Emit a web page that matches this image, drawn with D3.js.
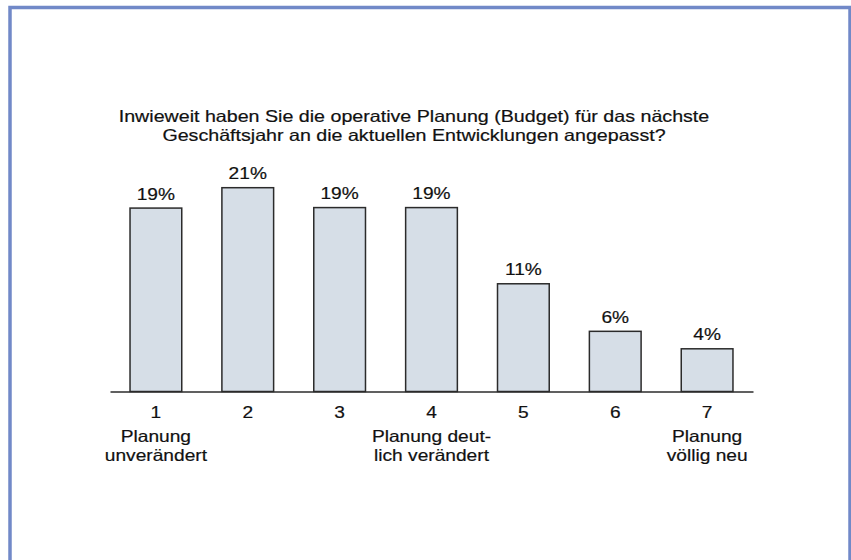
<!DOCTYPE html>
<html><head><meta charset="utf-8">
<script src="https://cdn.jsdelivr.net/npm/d3@7"></script>
<style>
html,body{margin:0;padding:0;background:#fff;}
svg{display:block;}
text{font-family:"Liberation Sans",Arial,sans-serif;fill:#111;stroke:#111;stroke-width:0.2px;}
</style></head>
<body>
<script>
const titleLines = ["Inwieweit haben Sie die operative Planung (Budget) für das nächste",
                    "Geschäftsjahr an die aktuellen Entwicklungen angepasst?"];
const categories = ["1","2","3","4","5","6","7"];
const subLabels = [["Planung","unverändert"],[],[],["Planung deut-","lich verändert"],[],[],["Planung","völlig neu"]];
const values = [18.9, 21.0, 18.95, 18.95, 11.1, 6.2, 4.4];
const valueLabels = ["19%","21%","19%","19%","11%","6%","4%"];

const W = 851, H = 560;
const SX = 1.16; // horizontal stretch of the original picture's text
const FS = 16.5;

const svg = d3.select("body").append("svg").attr("width", W).attr("height", H);

// frame
svg.append("rect").attr("x", 10).attr("y", 7.5).attr("width", 840).attr("height", 620)
  .attr("fill", "none").attr("stroke", "#7189c8").attr("stroke-width", 3.5);

function stretch(sx){
  return sel => sel.each(function(){
    const len = this.getComputedTextLength();
    d3.select(this).attr("textLength", len * sx).attr("lengthAdjust", "spacingAndGlyphs");
  });
}

// title
svg.append("g").selectAll("text").data(titleLines).join("text")
  .attr("x", 414).attr("y", (d,i) => 122 + i*19)
  .attr("text-anchor", "middle").attr("font-size", FS)
  .text(d => d).call(stretch(1.19));

const x = d3.scaleBand().domain(categories).range([110, 753]).paddingInner(0.437).paddingOuter(0.218);
const y = d3.scaleLinear().domain([0, 21]).range([391.5, 187.7]);

// bars
svg.append("g").selectAll("rect").data(values).join("rect")
  .attr("x", (d,i) => x(categories[i]))
  .attr("y", d => y(d))
  .attr("width", x.bandwidth())
  .attr("height", d => y(0) - y(d))
  .attr("fill", "#d6dee7").attr("stroke", "#2b2b2b").attr("stroke-width", 1.5);

// value labels
svg.append("g").selectAll("text").data(values).join("text")
  .attr("x", (d,i) => x(categories[i]) + x.bandwidth()/2)
  .attr("y", d => y(d) - 8.5)
  .attr("text-anchor", "middle").attr("font-size", FS)
  .text((d,i) => valueLabels[i]).call(stretch(SX));

// axis
const axis = svg.append("g").attr("transform", `translate(0,${y(0)})`)
  .call(d3.axisBottom(x).tickSize(0).tickSizeOuter(0).tickPadding(0));
axis.select(".domain").attr("stroke", "#2b2b2b").attr("stroke-width", 1.5);
axis.selectAll(".tick text").remove();
const lineY = [26, 50, 69];
axis.selectAll(".tick").each(function(c, i){
  const g = d3.select(this);
  const lines = [c].concat(subLabels[i]);
  g.selectAll("text.lbl").data(lines).join("text").attr("class","lbl")
    .attr("x", 0).attr("y", (d,j) => lineY[j])
    .attr("text-anchor", "middle").attr("font-size", FS)
    .text(d => d).call(stretch(SX));
});
</script>
</body></html>
